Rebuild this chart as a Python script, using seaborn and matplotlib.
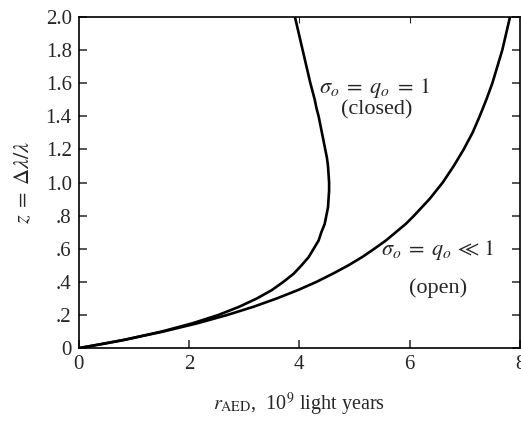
import pandas as pd
import matplotlib
matplotlib.use("Agg")
import matplotlib.pyplot as plt
import seaborn as sns

# redshift values and angular-size distance (10^9 light years)
z_closed = [0, 0.025, 0.05, 0.1, 0.15, 0.2, 0.25, 0.3, 0.35, 0.4, 0.45, 0.5, 0.55,
            0.6, 0.65, 0.7, 0.75, 0.8, 0.85, 0.9, 0.95, 1.0, 1.05, 1.1, 1.15, 1.2,
            1.25, 1.3, 1.35, 1.4, 1.45, 1.5, 1.6, 1.7, 1.8, 1.9, 2.0]
r_closed = [0, 0.43, 0.83, 1.50, 2.06, 2.53, 2.91, 3.23, 3.50, 3.71, 3.90, 4.04, 4.17,
            4.26, 4.35, 4.40, 4.46, 4.49, 4.52, 4.53, 4.54, 4.54, 4.53, 4.52, 4.50, 4.47,
            4.44, 4.41, 4.38, 4.35, 4.31, 4.28, 4.20, 4.13, 4.06, 3.99, 3.92]

z_open = [0, 0.05, 0.1, 0.15, 0.2, 0.25, 0.3, 0.35, 0.4, 0.45, 0.5, 0.55, 0.6, 0.65,
          0.7, 0.75, 0.8, 0.9, 1.0, 1.1, 1.2, 1.3, 1.4, 1.5, 1.6, 1.7, 1.8, 1.9, 2.0]
r_open = [0, 0.82, 1.53, 2.15, 2.69, 3.17, 3.59, 3.97, 4.31, 4.61, 4.89, 5.14, 5.36, 5.57,
          5.75, 5.93, 6.08, 6.36, 6.60, 6.80, 6.98, 7.14, 7.27, 7.39, 7.50, 7.59, 7.68, 7.75, 7.82]

x_ticks = [0, 2, 4, 6, 8]
y_ticks = [0, 0.2, 0.4, 0.6, 0.8, 1.0, 1.2, 1.4, 1.6, 1.8, 2.0]
y_labels = ["0", ".2", ".4", ".6", ".8", "1.0", "1.2", "1.4", "1.6", "1.8", "2.0"]

sns.set_style("ticks")
plt.rcParams["font.family"] = ["Liberation Serif", "DejaVu Serif"]
plt.rcParams["mathtext.fontset"] = "stix"

df_closed = pd.DataFrame({"r": r_closed, "z": z_closed})
df_open = pd.DataFrame({"r": r_open, "z": z_open})

fig = plt.figure(figsize=(5.21, 4.21), dpi=100)
ax = fig.add_axes([0.151, 0.173, 0.847, 0.787])

# closed curve turns back, so keep the point order
sns.lineplot(data=df_closed, x="r", y="z", sort=False, estimator=None,
             color="black", linewidth=1.9, ax=ax)
sns.lineplot(data=df_open, x="r", y="z", sort=False, estimator=None,
             color="black", linewidth=1.9, ax=ax)

ax.set_xlim(0, 8)
ax.set_ylim(0, 2)
ax.set_xticks(x_ticks)
ax.set_xticklabels([str(t) for t in x_ticks])
ax.set_yticks(y_ticks)
ax.set_yticklabels(y_labels)
ax.tick_params(axis="both", direction="in", length=6, width=1.1,
               labelsize=15, pad=5, right=True)
ax.tick_params(axis="y", which="both", labelright=False)

# small ticks along the top edge
top = ax.secondary_xaxis("top")
top.set_xticks([4, 6])
top.tick_params(direction="in", length=4, width=0.8, labeltop=False)
top.spines["top"].set_visible(False)

for s in ax.spines.values():
    s.set_linewidth(1.2)
    s.set_color("black")

ax.set_xlabel(r"$r_{\rm AED}$,  10$^9$ light years", fontsize=14.5, labelpad=12)
ax.set_ylabel(r"$z\;=\;\mathit{\Delta}\lambda/\lambda$", fontsize=16, labelpad=8)

ax.text(5.37, 1.57, r"$\sigma_o\;=\;q_o\;=\;1$", fontsize=16, ha="center", va="center")
ax.text(5.4, 1.44, "(closed)", fontsize=16, ha="center", va="center")
ax.text(6.52, 0.59, r"$\sigma_o\;=\;q_o\,\ll\,1$", fontsize=16, ha="center", va="center")
ax.text(6.52, 0.36, "(open)", fontsize=16, ha="center", va="center")

fig.savefig("out.png", dpi=100)
